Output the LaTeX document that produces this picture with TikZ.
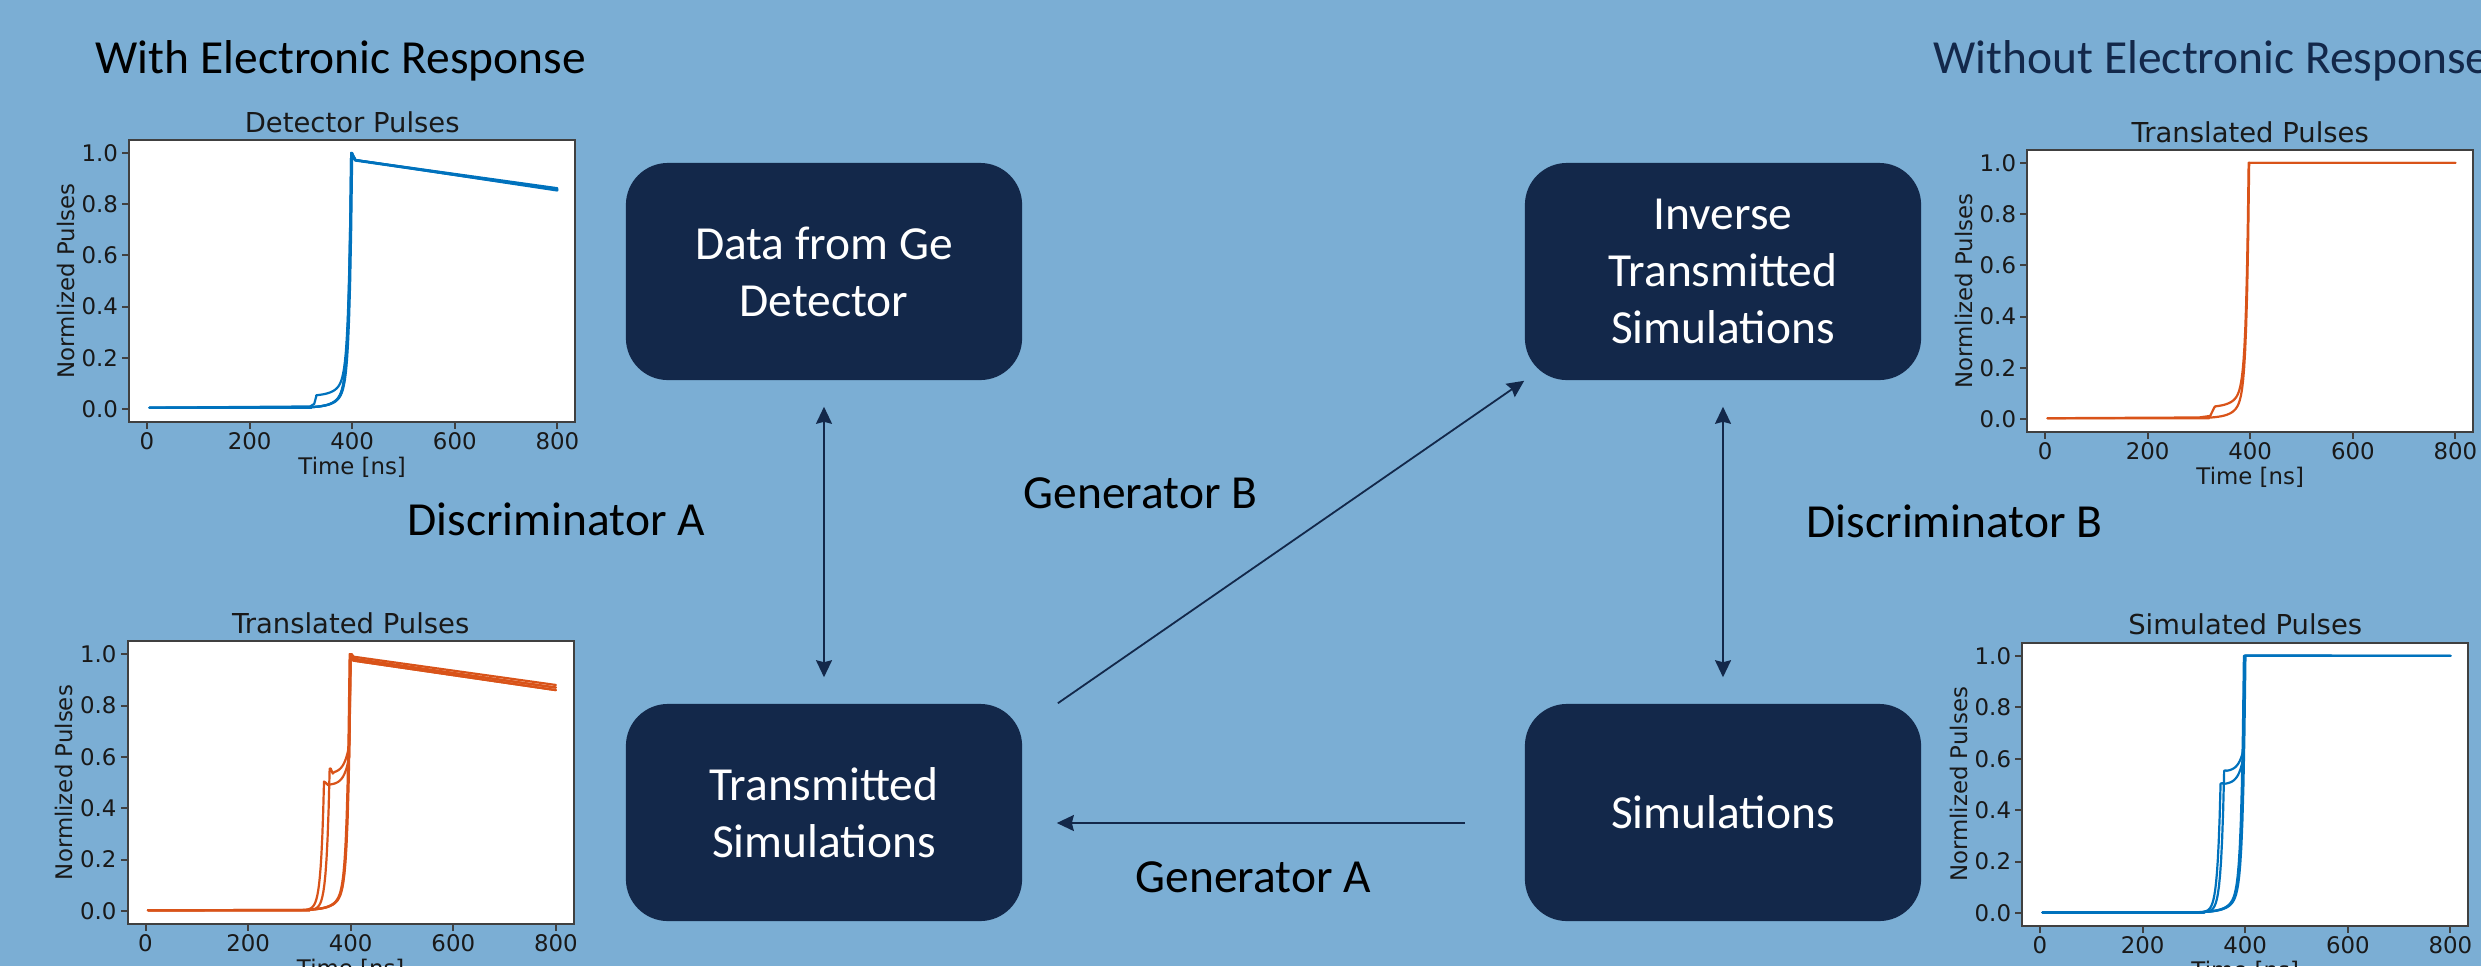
\documentclass[tikz,border=0pt]{standalone}
\usepackage{fontspec}
\setmainfont{Carlito}
\newfontfamily\plotfont{DejaVu Sans}
\usetikzlibrary{arrows.meta}

\definecolor{bgblue}{HTML}{7BAED4}
\definecolor{navy}{HTML}{13284A}
\definecolor{pblue}{HTML}{0072BD}
\definecolor{porange}{HTML}{D95319}

% frame, ticks and labels of one pulse plot (data units: ns / normalised)
\newcommand\pulseframe[1]{%
	\draw[ax, fill=white] (-35,-0.05) rectangle (835,1.05);
	\foreach \xv in {0,200,400,600,800}
		\draw[ax] (\xv,-0.05) -- ([yshift=-0.07cm]\xv,-0.05) node[tck, below] {\xv};
	\foreach \yv in {0.0,0.2,0.4,0.6,0.8,1.0}
		\draw[ax] (-35,\yv) -- ([xshift=-0.07cm]-35,\yv) node[tck, left] {\yv};
	\node[tck, rotate=90]	at	(-158,0.5)	{Normlized Pulses};
	\node[tck, anchor=base]	at	([yshift=-0.53cm]400,-0.05)	{Time [ns]};
	\node[ttl, anchor=base]	at	([yshift=0.08cm]400,1.05)	{#1};
}

\begin{document}
\begin{tikzpicture}[x=0.01cm, y=-0.01cm,
		box/.style = {rectangle, rounded corners=0.42cm, fill=navy, text=white, minimum width=3.96cm, minimum height=2.17cm, align=center, font=\fontsize{13.5}{16.2}\selectfont},
		txt/.style = {anchor=base west, inner sep=0pt, font=\fontsize{13.5}{16.2}\selectfont},
		arw/.style = {draw=navy, line width=0.018cm, >={Stealth[length=0.17cm, width=0.16cm, inset=0.02cm]}, ->},
		darw/.style = {arw, <->, shorten >=0.26cm, shorten <=0.26cm},
		ax/.style = {draw=black!75, line width=0.02cm},
		tck/.style = {font=\plotfont\fontsize{6.5}{7.8}\selectfont, text=black!90, inner sep=0.03cm},
		ttl/.style = {font=\plotfont\fontsize{7.8}{9.4}\selectfont, text=black!90, inner sep=0pt},
		bl/.style = {draw=pblue, line width=0.022cm, line join=round, line cap=round},
		ol/.style = {draw=porange, line width=0.022cm, line join=round, line cap=round},
		declare function = {rise(\u,\p) = 0.88*exp((\u-\p)/5)+0.12*exp((\u-\p)/20);}
		]
		
		%Background
		\useasboundingbox (0,0) rectangle (2481,966);
		\fill[bgblue] (0,0) rectangle (2481,966);
		\clip (0,0) rectangle (2481,966);
		
		%Plots
		% detector pulses
		\begin{scope}[shift={(147,409)}, x=0.005125cm, y=2.56cm]
			\pulseframe{Detector Pulses}
			\foreach \sh/\e in {0/0.853, 1/0.858, -1/0.862}
				\draw[bl] (5,0.005) -- (320,0.005) -- plot[domain=320:399, samples=40] ({\x+\sh}, {0.005+0.995*rise(\x,399)}) -- (401+\sh,0.99) -- (406+\sh,0.972) -- (800,\e);
			\draw[bl] (5,0.005) -- (318,0.01) -- (326,0.02) -- (330,0.05) -- plot[domain=330:398, samples=40] (\x, {0.05+0.95*rise(\x,398)}) -- (401,0.99) -- (406,0.97) -- (800,0.856);
		\end{scope}
		
		% translated pulses, left
		\begin{scope}[shift={(145.5,911)}, x=0.005125cm, y=2.567cm]
			\pulseframe{Translated Pulses}
			\foreach \sh/\a/\e in {0/0.99/0.88, 1/0.982/0.87, -1/0.975/0.86}
				\draw[ol] (5,0.003) -- (320,0.003) -- plot[domain=320:399, samples=40] ({\x+\sh}, {0.003+0.997*rise(\x,399)}) -- (401+\sh,1.0) -- (406+\sh,\a) -- (800,\e);
			\draw[ol] (5,0.003) -- (300,0.004) -- plot[domain=300:348, samples=30] (\x, {0.004+0.5*exp((\x-348)/6)}) -- (351,0.5) -- (356,0.49) -- plot[domain=360:397, samples=20] (\x, {0.49+0.11*exp((\x-397)/10)}) -- (400,1.0) -- (405,0.975) -- (800,0.86);
			\draw[ol] (5,0.003) -- (300,0.004) -- plot[domain=300:359, samples=30] (\x, {0.004+0.55*exp((\x-359)/6)}) -- (361,0.555) -- (365,0.535) -- plot[domain=368:397, samples=20] (\x, {0.535+0.11*exp((\x-397)/10)}) -- (400,1.0) -- (405,0.98) -- (800,0.87);
		\end{scope}
		
		% translated pulses, right
		\begin{scope}[shift={(2045,419)}, x=0.005125cm, y=2.56cm]
			\pulseframe{Translated Pulses}
			\draw[ol] (5,0.003) -- (320,0.003) -- plot[domain=320:398, samples=40] (\x, {0.003+0.997*rise(\x,398)}) -- (800,1.0);
			\draw[ol] (5,0.003) -- (300,0.006) -- (322,0.012) -- (330,0.045) -- plot[domain=332:397, samples=40] (\x, {0.045+0.955*rise(\x,397)}) -- (400,1.0) -- (800,1.0);
		\end{scope}
		
		% simulated pulses
		\begin{scope}[shift={(2040,913)}, x=0.005125cm, y=2.57cm]
			\pulseframe{Simulated Pulses}
			\foreach \sh in {0,1.5,-1.5}
				\draw[bl] (5,0.002) -- (320,0.002) -- plot[domain=320:399, samples=40] ({\x+\sh}, {0.002+0.998*rise(\x,399)}) -- (800,1.0);
			\draw[bl] (5,0.002) -- (300,0.003) -- plot[domain=300:352, samples=30] (\x, {0.003+0.5*exp((\x-352)/6)}) -- (355,0.505) -- plot[domain=358:396, samples=20] (\x, {0.5+0.1*exp((\x-396)/10)}) -- (399,1.0) -- (800,1.0);
			\draw[bl] (5,0.002) -- (300,0.003) -- plot[domain=300:359, samples=30] (\x, {0.003+0.55*exp((\x-359)/6)}) -- (362,0.555) -- plot[domain=364:396, samples=20] (\x, {0.55+0.08*exp((\x-396)/10)}) -- (399,1.0) -- (800,1.0);
		\end{scope}
		
		%Nodes
		\node[box]	(det)	at	(824,271.5)		{Data from Ge\\Detector};
		\node[box]	(tsim)	at	(824,812.5)		{Transmitted\\Simulations};
		\node[box]	(itsim)	at	(1723,271.5)	{Inverse\\Transmitted\\Simulations};
		\node[box]	(sim)	at	(1723,812.5)	{Simulations};
		
		\node[txt]				(with)		at	(95,73)		{With Electronic Response};
		\node[txt, text=navy]	(without)	at	(1933,73)	{Without Electronic Response};
		\node[txt]	(discA)	at	(407,535)	{Discriminator A};
		\node[txt]	(genB)	at	(1023,508)	{Generator B};
		\node[txt]	(discB)	at	(1806,537)	{Discriminator B};
		\node[txt]	(genA)	at	(1135,892)	{Generator A};
		
		%Lines
		\draw[darw]	(det.south)		--	(tsim.north);
		\draw[darw]	(itsim.south)	--	(sim.north);
		\draw[arw]	([xshift=0.35cm]tsim.north east)	--	(itsim.south west);
		\draw[arw]	([xshift=-0.59cm, yshift=-0.105cm]sim.west)	--	([xshift=0.34cm, yshift=-0.105cm]tsim.east);
	\end{tikzpicture}
\end{document}
